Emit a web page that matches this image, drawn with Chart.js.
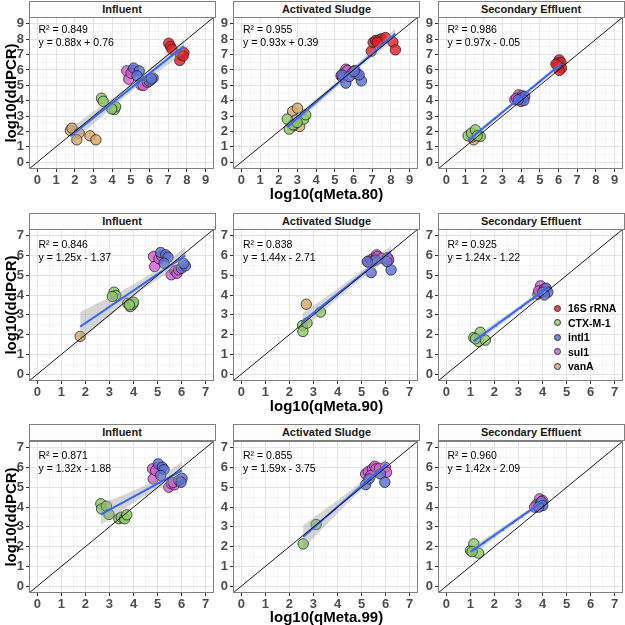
<!DOCTYPE html>
<html><head><meta charset="utf-8">
<script src="https://cdn.jsdelivr.net/npm/chart.js@4.4.1/dist/chart.umd.min.js"></script>
<style>
html,body{margin:0;padding:0;background:#fff;}
body{width:625px;height:625px;position:relative;overflow:hidden;font-family:"Liberation Sans",Arial,sans-serif;}
.wrap{position:absolute;}
.strip{position:absolute;box-sizing:border-box;border:1px solid #808080;background:#fdfdfd;font-weight:bold;font-size:11px;color:#1a1a1a;text-align:center;line-height:15px;}
.ann{position:absolute;font-size:10.5px;line-height:13px;color:#000;white-space:nowrap;}
.xt{position:absolute;font-weight:bold;font-size:15px;line-height:15px;color:#000;transform:translate(-50%,-50%);white-space:nowrap;}
.yt{position:absolute;font-weight:bold;font-size:15px;line-height:15px;color:#000;transform:translate(-50%,-50%) rotate(-90deg);white-space:nowrap;}
.lk{position:absolute;width:7px;height:7px;border-radius:50%;box-sizing:border-box;border:0.8px solid #333;}
.lt{position:absolute;font-weight:bold;font-size:10.5px;line-height:14px;color:#000;white-space:nowrap;}
</style></head><body>
<script>
// ---------- categories / labels ----------
const genes = ['16S rRNA', 'CTX-M-1', 'intI1', 'sul1', 'vanA'];
const geneColors = ['rgba(228,30,38,0.82)', 'rgba(140,204,102,0.82)', 'rgba(92,112,214,0.82)', 'rgba(214,92,214,0.82)', 'rgba(212,168,104,0.82)'];
const sites = ['Influent', 'Activated Sludge', 'Secondary Effluent'];
const xTitles = ['log10(qMeta.80)', 'log10(qMeta.90)', 'log10(qMeta.99)'];
const yTitle = 'log10(ddPCR)';
const ticksRow1 = [0, 1, 2, 3, 4, 5, 6, 7, 8, 9];
const ticksRow23 = [0, 1, 2, 3, 4, 5, 6, 7];
const r2Labels = [['0.849', '0.955', '0.986'], ['0.846', '0.838', '0.925'], ['0.871', '0.855', '0.960']];
const eqLabels = [
  ['y = 0.88x + 0.76', 'y = 0.93x + 0.39', 'y = 0.97x - 0.05'],
  ['y = 1.25x - 1.37', 'y = 1.44x - 2.71', 'y = 1.24x - 1.22'],
  ['y = 1.32x - 1.88', 'y = 1.59x - 3.75', 'y = 1.42x - 2.09']
];

// ---------- data: [log10(qMeta), log10(ddPCR)] per gene ----------
const influent80 = {
  '16S rRNA': [[7.03,7.74],[7.12,7.53],[7.2,7.35],[7.64,6.98],[7.84,7.12],[7.62,6.62],[7.8,6.92]],
  'CTX-M-1': [[3.43,4.16],[3.52,3.96],[4.02,3.52],[4.13,3.42],[4.18,3.6],[3.98,3.46]],
  'intI1': [[5.15,6.12],[5.45,5.94],[5.33,5.62],[6.06,5.36],[6.19,5.47],[5.98,5.27],[6.1,5.42]],
  'sul1': [[4.78,5.94],[4.89,5.4],[5.1,5.97],[5.01,5.79],[5.54,5.03],[5.75,5.25],[5.66,4.99],[5.89,5.2]],
  'vanA': [[1.76,2.06],[1.85,2.21],[2.23,1.89],[2.11,1.45],[2.81,1.71],[3.13,1.45]]
};
const sludge80 = {
  '16S rRNA': [[6.95,7.22],[7.05,7.79],[7.18,7.92],[7.35,7.96],[7.5,8.03],[7.71,8.11],[7.27,7.81],[8.11,7.81],[8.24,7.31]],
  'CTX-M-1': [[2.45,2.8],[2.56,2.15],[2.77,2.43],[3.33,2.8],[3.44,3.08],[2.98,2.58]],
  'intI1': [[5.59,5.14],[6.42,5.29],[6.3,5.68],[5.38,5.68],[5.77,5.57],[6.03,5.9]],
  'sul1': [[5.33,5.62],[5.5,5.84],[5.59,6.05],[5.68,5.97],[5.94,5.84],[6.08,5.97],[6.17,5.75],[5.41,5.53]],
  'vanA': [[2.74,3.3],[3.0,3.51],[3.12,2.32],[2.77,2.36],[2.91,2.75]]
};
const effluent80 = {
  '16S rRNA': [[6.04,6.66],[5.95,6.44],[6.13,6.49],[5.98,6.23],[6.16,6.12],[6.04,5.97],[5.86,6.38]],
  'CTX-M-1': [[1.16,1.71],[1.34,1.89],[1.55,2.1],[1.81,1.67],[1.65,1.71]],
  'intI1': [[4.01,4.16],[4.19,4.27],[4.15,4.01],[3.84,4.06]],
  'sul1': [[3.87,4.38],[3.66,4.06],[3.98,3.95],[3.75,4.16],[4.05,4.32]],
  'vanA': [[1.46,1.45],[1.37,1.63],[1.58,1.78]]
};
const influent90 = {
  'CTX-M-1': [[3.19,4.15],[3.26,3.98],[3.12,3.93],[3.76,3.59],[3.86,3.42],[3.97,3.54],[4.0,3.64],[3.83,3.51]],
  'intI1': [[5.13,6.16],[5.34,6.04],[5.44,5.92],[5.27,5.62],[5.99,5.36],[6.16,5.48],[6.09,5.6]],
  'sul1': [[4.83,5.95],[4.88,5.45],[5.06,5.85],[5.17,5.99],[5.57,5.03],[5.72,5.23],[5.81,5.11],[5.88,5.28]],
  'vanA': [[1.78,1.91]]
};
const sludge90 = {
  'CTX-M-1': [[2.54,2.46],[2.56,2.16],[2.73,2.58],[3.29,3.14]],
  'intI1': [[5.4,5.14],[6.23,5.28],[6.06,5.7],[5.58,5.78],[5.24,5.7]],
  'sul1': [[5.28,5.67],[5.38,5.78],[5.52,5.9],[5.63,6.04],[5.66,5.95],[5.86,5.87],[6.09,5.9],[6.13,5.78],[5.45,5.7]],
  'vanA': [[2.7,3.54]]
};
const effluent90 = {
  'CTX-M-1': [[1.14,1.85],[1.41,2.12],[1.34,1.65],[1.62,1.72],[1.21,1.79]],
  'intI1': [[4.15,4.35],[4.01,4.15],[4.22,4.15],[4.08,4.01]],
  'sul1': [[3.92,4.47],[3.81,4.05],[3.95,4.15],[3.84,4.22],[4.08,4.32]]
};
const influent99 = {
  'CTX-M-1': [[2.64,4.17],[2.67,3.91],[2.87,4.05],[2.98,3.63],[3.39,3.41],[3.49,3.49],[3.63,3.41],[3.72,3.61]],
  'intI1': [[5.03,6.19],[5.2,6.02],[5.27,5.9],[5.13,5.6],[5.88,5.35],[6.02,5.46],[5.98,5.26]],
  'sul1': [[4.79,5.94],[4.82,5.43],[5.02,6.02],[4.92,5.85],[5.47,5.01],[5.58,5.18],[5.7,5.13],[5.65,5.25]]
};
const sludge99 = {
  'CTX-M-1': [[2.57,2.14],[3.11,3.12]],
  'intI1': [[5.17,5.14],[5.79,5.68],[5.97,5.26],[5.31,5.43]],
  'sul1': [[5.17,5.68],[5.28,5.8],[5.45,5.94],[5.55,6.07],[5.6,5.94],[5.75,5.97],[5.99,6.02],[6.04,5.77],[5.38,5.6]]
};
const effluent99 = {
  'CTX-M-1': [[1.0,1.8],[1.14,2.14],[1.34,1.67],[1.07,1.75]],
  'intI1': [[3.95,4.28],[4.01,4.08],[3.84,4.0]],
  'sul1': [[3.88,4.42],[3.74,4.11],[3.92,4.17],[3.67,4.0],[4.01,4.33]]
};
const panelData = [[influent80, sludge80, effluent80], [influent90, sludge90, effluent90], [influent99, sludge99, effluent99]];

// ---------- layout ----------
const COLS = [28.5, 233, 437.5], PW = 187;
const ROWS = [17, 229, 440.5], PH = 152;
const YAX = 26, XAX = 22, PADT = 8, PADR = 4;
const annOffsets = [[12, 25], [15, 28], [15, 28]];
const xTitleY = [193, 405, 615.5];

function tq(df) {
  const z = 1.959964;
  return z + (z**3 + z) / (4*df) + (5*z**5 + 16*z**3 + 3*z) / (96*df*df) + (3*z**7 + 19*z**5 + 17*z**3 - 15*z) / (384*df**3);
}
function fitLine(pts) {
  const n = pts.length;
  let mx = 0, my = 0;
  pts.forEach(p => { mx += p[0]; my += p[1]; });
  mx /= n; my /= n;
  let sxx = 0, sxy = 0;
  pts.forEach(p => { sxx += (p[0]-mx)**2; sxy += (p[0]-mx)*(p[1]-my); });
  const b = sxy / sxx, a = my - b*mx;
  let sse = 0;
  pts.forEach(p => { const e = p[1] - (a + b*p[0]); sse += e*e; });
  const s = Math.sqrt(sse / (n-2)), t = tq(n-2);
  const xs = pts.map(p => p[0]);
  const x0 = Math.min(...xs), x1 = Math.max(...xs);
  const line = [], lo = [], hi = [];
  for (let i = 0; i <= 80; i++) {
    const x = x0 + (x1-x0)*i/80, yh = a + b*x;
    const se = s * Math.sqrt(1/n + (x-mx)**2/sxx);
    line.push({x, y: yh}); lo.push({x, y: yh - t*se}); hi.push({x, y: yh + t*se});
  }
  return {line, lo, hi};
}

const panelPlugin = {
  id: 'panelbox',
  beforeDraw(chart) {
    const {ctx, chartArea: a} = chart;
    ctx.save(); ctx.fillStyle = '#fff'; ctx.fillRect(a.left, a.top, a.width, a.height); ctx.restore();
  },
  afterDraw(chart) {
    const {ctx, chartArea: a} = chart;
    ctx.save(); ctx.strokeStyle = '#7f7f7f'; ctx.lineWidth = 1;
    ctx.strokeRect(Math.round(a.left)+0.5, Math.round(a.top)+0.5, Math.round(a.width)-1, Math.round(a.height)-1);
    ctx.restore();
  }
};

function axisOpts(major, lim, isX) {
  const step = 0.5;
  const all = [];
  for (let v = major[0]; v <= major[major.length-1] + 1e-9; v += step) all.push(Math.round(v*10)/10);
  const isMajor = v => Math.abs(v - Math.round(v)) < 1e-9;
  return {
    type: 'linear', min: lim[0], max: lim[1],
    afterBuildTicks: s => { s.ticks = all.map(v => ({value: v})); },
    afterFit: s => {
      if (isX) { s.height = XAX; s.paddingLeft = 0; s.paddingRight = 0; }
      else { s.width = YAX; s.paddingTop = 0; s.paddingBottom = 0; }
    },
    border: {display: false},
    grid: {
      color: c => (c.tick && isMajor(c.tick.value)) ? '#e4e4e4' : '#efefef',
      lineWidth: c => (c.tick && isMajor(c.tick.value)) ? 1 : 0.6,
      tickColor: c => (c.tick && isMajor(c.tick.value)) ? '#333' : 'rgba(0,0,0,0)',
      tickLength: 3, drawTicks: true
    },
    ticks: {
      autoSkip: false, maxRotation: 0, minRotation: 0, padding: isX ? 1 : 2,
      color: '#4d4d4d', font: {family: '"Liberation Sans", Arial, sans-serif', size: 13, weight: 'bold'},
      callback: v => isMajor(v) ? String(Math.round(v)) : ''
    }
  };
}

function addDiv(cls, text, styles) {
  const d = document.createElement('div');
  d.className = cls; if (text !== null) d.textContent = text;
  Object.assign(d.style, styles);
  document.body.appendChild(d);
  return d;
}

function makePanel(r, c) {
  const pts = panelData[r][c];
  const lim = r === 0 ? [-0.45, 9.45] : [-0.35, 7.35];
  const major = r === 0 ? ticksRow1 : ticksRow23;
  const wrap = addDiv('wrap', null, {
    left: (COLS[c] - YAX) + 'px', top: (ROWS[r] - PADT) + 'px',
    width: (YAX + PW + PADR) + 'px', height: (PADT + PH + XAX) + 'px'
  });
  const cv = document.createElement('canvas');
  wrap.appendChild(cv);
  const allPts = [];
  genes.forEach(g => (pts[g] || []).forEach(p => allPts.push(p)));
  const f = fitLine(allPts);
  const datasets = [
    {type: 'line', data: [{x: lim[0], y: lim[0]}, {x: lim[1], y: lim[1]}], borderColor: '#000', borderWidth: 0.9, pointRadius: 0, fill: false, order: 0},
    {type: 'line', data: f.line, borderColor: '#3366FF', borderWidth: 2, pointRadius: 0, fill: false, order: 1},
    {type: 'line', data: f.lo, borderColor: 'rgba(0,0,0,0)', borderWidth: 0, pointRadius: 0, fill: false, order: 2},
    {type: 'line', data: f.hi, borderColor: 'rgba(0,0,0,0)', borderWidth: 0, pointRadius: 0, fill: '-1', backgroundColor: 'rgba(153,153,153,0.4)', order: 2}
  ];
  genes.forEach((g, i) => {
    if (!pts[g]) return;
    datasets.push({type: 'scatter', label: g, data: pts[g].map(([x, y]) => ({x, y})),
      backgroundColor: geneColors[i], borderColor: '#262626', borderWidth: 0.8, pointRadius: 5.2, order: 3});
  });
  new Chart(cv, {
    type: 'scatter',
    data: {datasets},
    options: {
      responsive: true, maintainAspectRatio: false, animation: false,
      layout: {padding: {top: PADT, right: PADR, left: 0, bottom: 0}},
      plugins: {legend: {display: false}, tooltip: {enabled: false}},
      scales: {x: axisOpts(major, lim, true), y: axisOpts(major, lim, false)}
    },
    plugins: [panelPlugin]
  });
  // strip
  addDiv('strip', sites[c], {left: COLS[c] + 'px', top: (ROWS[r] - 16.5) + 'px', width: PW + 'px', height: '17px'});
  // annotations
  addDiv('ann', 'R\u00B2 = ' + r2Labels[r][c], {left: (COLS[c] + 10) + 'px', top: (ROWS[r] + annOffsets[r][0] - 6.5) + 'px'});
  addDiv('ann', eqLabels[r][c], {left: (COLS[c] + 10) + 'px', top: (ROWS[r] + annOffsets[r][1] - 6.5) + 'px'});
}

for (let r = 0; r < 3; r++) {
  for (let c = 0; c < 3; c++) makePanel(r, c);
  addDiv('xt', xTitles[r], {left: (COLS[1] + PW/2) + 'px', top: xTitleY[r] + 'px'});
  addDiv('yt', yTitle, {left: '10px', top: (ROWS[r] + PH/2) + 'px'});
}

// legend (inside Secondary Effluent, row 2)
const legY = [308, 322.5, 337, 351.5, 366];
genes.forEach((g, i) => {
  addDiv('lk', null, {left: '553.5px', top: (legY[i] - 3.5) + 'px', background: geneColors[i]});
  addDiv('lt', g, {left: '568px', top: (legY[i] - 7) + 'px'});
});
</script>
</body></html>
